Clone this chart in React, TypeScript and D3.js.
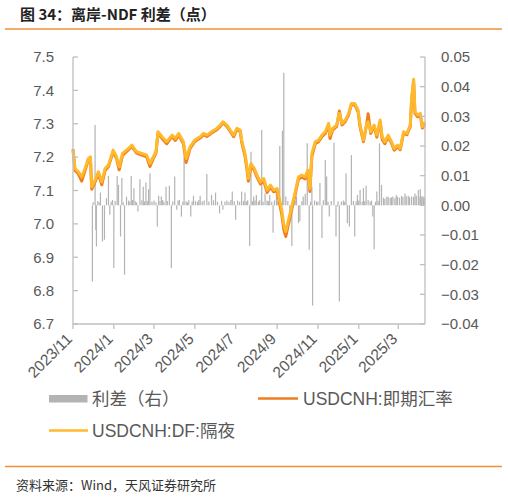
import { useEffect, useRef } from 'react';
import * as d3 from 'd3';

// Dates of the traced line points
const lineDates = [
  '2023-11-01', '2023-11-04', '2023-11-09', '2023-11-14', '2023-11-19', '2023-11-24', '2023-11-27', '2023-11-29',
  '2023-12-04', '2023-12-09', '2023-12-14', '2023-12-19', '2023-12-24', '2023-12-31',
  '2024-01-05', '2024-01-09', '2024-01-14', '2024-01-23', '2024-01-28',
  '2024-02-04', '2024-02-12', '2024-02-19', '2024-02-24', '2024-02-29',
  '2024-03-04', '2024-03-07', '2024-03-13', '2024-03-20', '2024-03-28',
  '2024-04-02', '2024-04-07', '2024-04-14', '2024-04-18', '2024-04-24',
  '2024-05-01', '2024-05-09', '2024-05-14', '2024-05-19', '2024-05-26',
  '2024-06-03', '2024-06-08', '2024-06-12', '2024-06-18', '2024-06-23', '2024-06-28',
  '2024-07-03', '2024-07-08', '2024-07-10', '2024-07-15', '2024-07-18', '2024-07-20', '2024-07-24', '2024-07-29',
  '2024-08-02', '2024-08-07', '2024-08-12', '2024-08-17', '2024-08-22', '2024-08-27',
  '2024-09-01', '2024-09-04', '2024-09-08', '2024-09-11', '2024-09-14', '2024-09-18', '2024-09-23', '2024-09-28',
  '2024-10-03', '2024-10-08', '2024-10-13', '2024-10-17', '2024-10-20', '2024-10-23', '2024-10-28',
  '2024-11-02', '2024-11-07', '2024-11-12', '2024-11-17', '2024-11-19', '2024-11-23', '2024-11-29',
  '2024-12-03', '2024-12-07', '2024-12-12', '2024-12-17', '2024-12-21', '2024-12-26', '2024-12-31',
  '2025-01-03', '2025-01-08', '2025-01-13', '2025-01-15', '2025-01-19', '2025-01-24', '2025-01-28',
  '2025-02-02', '2025-02-05', '2025-02-09', '2025-02-14', '2025-02-19', '2025-02-23', '2025-02-28',
  '2025-03-04', '2025-03-09', '2025-03-14', '2025-03-19', '2025-03-21', '2025-03-24', '2025-03-26', '2025-03-30',
  '2025-04-03', '2025-04-06', '2025-04-10',
];

// USDCNH:DF:隔夜
const dfValues = [
  7.221, 7.166, 7.156, 7.141, 7.166, 7.196, 7.201, 7.111,
  7.131, 7.156, 7.126, 7.166, 7.176, 7.221,
  7.201, 7.171, 7.211, 7.226, 7.236,
  7.216, 7.211, 7.206, 7.181, 7.201,
  7.216, 7.276, 7.261, 7.246, 7.266,
  7.256, 7.271, 7.246, 7.196, 7.231,
  7.251, 7.261, 7.271, 7.266, 7.276,
  7.286, 7.296, 7.306, 7.296, 7.281, 7.266,
  7.286, 7.281, 7.251, 7.211, 7.171, 7.136, 7.181, 7.166,
  7.146, 7.126, 7.136, 7.101, 7.116, 7.101,
  7.106, 7.077, 7.041, 6.997, 6.977, 7.012, 7.052, 7.095,
  7.141, 7.146, 7.141, 7.161, 7.106, 7.211, 7.246,
  7.251, 7.266, 7.276, 7.301, 7.266, 7.286, 7.296,
  7.331, 7.301, 7.311, 7.331, 7.361, 7.361, 7.341,
  7.296, 7.251, 7.301, 7.306, 7.276, 7.296, 7.266,
  7.311, 7.261, 7.246, 7.266, 7.246, 7.226, 7.236,
  7.226, 7.276, 7.271, 7.296, 7.376, 7.433, 7.336, 7.326,
  7.331, 7.291, 7.305,
];

// USDCNH:即期汇率
const spotValues = [
  7.224, 7.160, 7.150, 7.128, 7.160, 7.192, 7.198, 7.104,
  7.126, 7.150, 7.117, 7.160, 7.172, 7.216,
  7.196, 7.162, 7.205, 7.222, 7.232,
  7.212, 7.206, 7.201, 7.172, 7.196,
  7.212, 7.272, 7.256, 7.240, 7.262,
  7.250, 7.266, 7.240, 7.184, 7.226,
  7.247, 7.257, 7.267, 7.262, 7.272,
  7.282, 7.292, 7.303, 7.292, 7.277, 7.261,
  7.283, 7.277, 7.245, 7.203, 7.162, 7.128, 7.175, 7.160,
  7.140, 7.120, 7.130, 7.094, 7.110, 7.096,
  7.100, 7.068, 7.028, 6.983, 6.962, 7.000, 7.044, 7.088,
  7.135, 7.140, 7.135, 7.155, 7.097, 7.203, 7.240,
  7.246, 7.261, 7.271, 7.296, 7.256, 7.281, 7.292,
  7.338, 7.296, 7.307, 7.327, 7.358, 7.357, 7.336,
  7.290, 7.246, 7.300, 7.330, 7.271, 7.292, 7.260,
  7.306, 7.253, 7.240, 7.261, 7.241, 7.221, 7.232,
  7.222, 7.272, 7.267, 7.292, 7.370, 7.428, 7.331, 7.321,
  7.327, 7.287, 7.300,
];

// 利差（右）: [date, spread]
const spreadBars: [string, number][] = [
  ['2023-11-30', -0.0257], ['2023-12-01', 0.001], ['2023-12-04', 0.0271], ['2023-12-05', -0.0083],
  ['2023-12-06', -0.0139], ['2023-12-08', 0.0015], ['2023-12-10', 0.001], ['2023-12-12', 0.0043],
  ['2023-12-15', -0.0122], ['2023-12-18', -0.0116], ['2023-12-21', 0.0024], ['2023-12-24', 0.0099],
  ['2023-12-26', -0.0032], ['2023-12-28', 0.0012], ['2023-12-30', 0.0018], ['2024-01-01', -0.0211],
  ['2024-01-03', 0.0015], ['2024-01-06', 0.0099], ['2024-01-08', 0.0069], ['2024-01-11', -0.0105],
  ['2024-01-13', 0.0092], ['2024-01-15', 0.001], ['2024-01-17', -0.0234], ['2024-01-20', 0.0029],
  ['2024-01-23', 0.0016], ['2024-01-25', 0.0012], ['2024-01-27', 0.0099], ['2024-01-29', 0.0018],
  ['2024-01-31', 0.0058], ['2024-02-02', 0.0014], ['2024-02-04', 0.001], ['2024-02-06', -0.0021],
  ['2024-02-09', 0.0088], ['2024-02-12', 0.0017], ['2024-02-14', 0.0063], ['2024-02-16', 0.0013],
  ['2024-02-18', 0.0077], ['2024-02-20', 0.0015], ['2024-02-22', 0.0054], ['2024-02-24', 0.0108],
  ['2024-02-27', 0.0012], ['2024-03-01', 0.0016], ['2024-03-04', 0.001], ['2024-03-06', -0.0071],
  ['2024-03-08', 0.0032], ['2024-03-10', 0.0014], ['2024-03-12', 0.003], ['2024-03-14', 0.0018],
  ['2024-03-16', 0.0012], ['2024-03-19', 0.0063], ['2024-03-21', 0.0015], ['2024-03-24', 0.0066],
  ['2024-03-27', -0.0211], ['2024-03-29', 0.0013], ['2024-04-01', 0.0097], ['2024-04-04', -0.0015],
  ['2024-04-06', 0.0016], ['2024-04-08', 0.0018], ['2024-04-11', -0.0038], ['2024-04-13', 0.0012],
  ['2024-04-15', 0.0164], ['2024-04-18', 0.0014], ['2024-04-20', 0.001], ['2024-04-22', 0.0017],
  ['2024-04-25', -0.0038], ['2024-04-27', 0.0013], ['2024-04-29', 0.0032], ['2024-05-02', 0.0015],
  ['2024-05-05', 0.0012], ['2024-05-07', 0.0018], ['2024-05-09', 0.0032], ['2024-05-12', 0.0014],
  ['2024-05-15', 0.0016], ['2024-05-19', 0.0106], ['2024-05-22', 0.0013], ['2024-05-26', 0.0035],
  ['2024-05-29', 0.0017], ['2024-06-01', 0.0043], ['2024-06-04', 0.0012], ['2024-06-07', -0.0027],
  ['2024-06-10', 0.0015], ['2024-06-12', -0.0015], ['2024-06-15', 0.0013], ['2024-06-18', 0.0016],
  ['2024-06-21', 0.0012], ['2024-06-24', 0.0018], ['2024-06-26', 0.0047], ['2024-06-29', 0.0014],
  ['2024-07-01', -0.0049], ['2024-07-04', 0.0016], ['2024-07-07', 0.0012], ['2024-07-10', 0.0047],
  ['2024-07-13', 0.0015], ['2024-07-15', 0.0043], ['2024-07-17', 0.0013], ['2024-07-19', 0.0017],
  ['2024-07-22', -0.0137], ['2024-07-24', 0.0181], ['2024-07-26', 0.0014], ['2024-07-28', 0.003],
  ['2024-07-30', 0.0016], ['2024-08-01', 0.0035], ['2024-08-04', 0.0013], ['2024-08-06', 0.0017],
  ['2024-08-09', 0.0254], ['2024-08-11', 0.0012], ['2024-08-14', 0.004], ['2024-08-17', 0.0016],
  ['2024-08-19', 0.0014], ['2024-08-21', 0.0035], ['2024-08-24', 0.0012], ['2024-08-26', -0.0092],
  ['2024-08-28', 0.0017], ['2024-08-31', 0.004], ['2024-09-02', 0.0013], ['2024-09-05', 0.02],
  ['2024-09-09', 0.0252], ['2024-09-11', 0.0447], ['2024-09-14', 0.003], ['2024-09-17', 0.0015],
  ['2024-09-20', -0.006], ['2024-09-23', -0.0137], ['2024-09-26', 0.0012], ['2024-09-28', 0.0016],
  ['2024-09-30', 0.003], ['2024-10-03', -0.006], ['2024-10-05', -0.0054], ['2024-10-08', 0.0014],
  ['2024-10-10', 0.003], ['2024-10-13', 0.0039], ['2024-10-16', 0.0209], ['2024-10-19', -0.015],
  ['2024-10-21', 0.0012], ['2024-10-23', 0.0063], ['2024-10-24', -0.0338], ['2024-10-27', 0.0016],
  ['2024-10-30', 0.0012], ['2024-11-01', 0.0013], ['2024-11-04', 0.0075], ['2024-11-07', -0.011],
  ['2024-11-09', 0.0017], ['2024-11-12', 0.0153], ['2024-11-14', 0.0097], ['2024-11-16', 0.0012],
  ['2024-11-18', -0.0038], ['2024-11-21', 0.0015], ['2024-11-25', 0.0211], ['2024-11-28', -0.0105],
  ['2024-11-30', -0.0004], ['2024-12-01', 0.0014], ['2024-12-03', -0.0324], ['2024-12-06', 0.0012],
  ['2024-12-09', 0.0016], ['2024-12-11', 0.0012], ['2024-12-13', 0.0108], ['2024-12-15', -0.006],
  ['2024-12-18', -0.0071], ['2024-12-21', 0.017], ['2024-12-24', 0.0015], ['2024-12-26', -0.0105],
  ['2024-12-28', 0.0013], ['2024-12-30', 0.0035], ['2025-01-01', 0.0016], ['2025-01-03', 0.0052],
  ['2025-01-06', 0.0012], ['2025-01-08', 0.0058], ['2025-01-10', 0.0015], ['2025-01-12', 0.0066],
  ['2025-01-15', 0.0018], ['2025-01-18', 0.0013], ['2025-01-20', 0.0016], ['2025-01-22', -0.0038],
  ['2025-01-24', -0.0148], ['2025-01-26', 0.0012], ['2025-01-28', 0.0047], ['2025-01-30', 0.0015],
  ['2025-02-01', 0.0209], ['2025-02-04', 0.0069], ['2025-02-07', 0.0026], ['2025-02-09', 0.0022],
  ['2025-02-12', 0.003], ['2025-02-14', 0.0028], ['2025-02-17', 0.0025], ['2025-02-19', 0.0027],
  ['2025-02-21', 0.003], ['2025-02-24', 0.0024], ['2025-02-26', 0.0035], ['2025-02-28', 0.0029],
  ['2025-03-03', 0.0026], ['2025-03-06', 0.0032], ['2025-03-08', 0.0028], ['2025-03-11', 0.0039],
  ['2025-03-13', 0.0031], ['2025-03-16', 0.0032], ['2025-03-18', 0.0027], ['2025-03-21', 0.003],
  ['2025-03-24', 0.0029], ['2025-03-26', 0.004], ['2025-03-28', 0.0032], ['2025-03-31', 0.0052],
  ['2025-04-01', 0.0028], ['2025-04-03', 0.0054], ['2025-04-05', 0.003], ['2025-04-07', 0.0031],
  ['2025-04-08', 0.0024], ['2025-04-09', 0.0027],
];

const leftTicks = [6.7, 6.8, 6.9, 7.0, 7.1, 7.2, 7.3, 7.4, 7.5];
const rightTicks = [-0.04, -0.03, -0.02, -0.01, 0, 0.01, 0.02, 0.03, 0.04, 0.05];
const xTickDates = ['2023-11-01', '2024-01-01', '2024-03-01', '2024-05-01', '2024-07-01', '2024-09-01', '2024-11-01', '2025-01-01', '2025-03-01'];
const xTickLabels = ['2023/11', '2024/1', '2024/3', '2024/5', '2024/7', '2024/9', '2024/11', '2025/1', '2025/3'];

const ORANGE = '#F07D1F';
const YELLOW = '#FEB92C';
const GRAY = '#B3B3B3';
const AXIS = '#BFBFBF';
const TEXT = '#595959';
const LATIN = "'Liberation Sans', Arial, 'Noto Sans CJK SC', sans-serif";
const CJK = "'Noto Sans CJK SC', 'Liberation Sans', sans-serif";

export default function App() {
  const svgRef = useRef<SVGSVGElement>(null);

  useEffect(() => {
    if (!svgRef.current) return;
    const svg = d3.select(svgRef.current);
    svg.selectAll('*').remove();

    const width = 508;
    const height = 497;
    const left = 73, right = 425, top = 57, bottom = 324;
    const parse = d3.timeParse('%Y-%m-%d');

    const x = d3.scaleTime()
      .domain([parse('2023-11-01')!, parse('2025-04-10')!])
      .range([left, right]);
    const yL = d3.scaleLinear().domain([6.7, 7.5]).range([bottom, top]);
    const yR = d3.scaleLinear().domain([-0.04, 0.05]).range([bottom, top]);

    svg.attr('width', width).attr('height', height);
    svg.append('rect').attr('width', width).attr('height', height).attr('fill', '#fff');

    // Title and rules
    svg.append('text')
      .attr('x', 20).attr('y', 20)
      .attr('font-family', CJK).attr('font-weight', 700).attr('font-size', 15)
      .attr('fill', '#222')
      .text('图 34：离岸-NDF 利差（点）');
    svg.append('line').attr('x1', 5).attr('x2', 502).attr('y1', 29).attr('y2', 29)
      .attr('stroke', '#F0913A').attr('stroke-width', 1.3);
    svg.append('line').attr('x1', 5).attr('x2', 502).attr('y1', 466.5).attr('y2', 466.5)
      .attr('stroke', '#F0913A').attr('stroke-width', 1.3);

    // Spread bars
    svg.append('g').selectAll('line')
      .data(spreadBars)
      .enter().append('line')
      .attr('x1', d => x(parse(d[0])!)).attr('x2', d => x(parse(d[0])!))
      .attr('y1', yR(0)).attr('y2', d => yR(d[1]))
      .attr('stroke', GRAY).attr('stroke-width', 1.2);

    // Lines
    const pts = (vals: number[]) => lineDates.map((d, i) => [parse(d)!, vals[i]] as [Date, number]);
    const line = d3.line<[Date, number]>()
      .x(d => x(d[0]))
      .y(d => yL(d[1]))
      .curve(d3.curveLinear);
    svg.append('path').attr('d', line(pts(spotValues))!)
      .attr('fill', 'none').attr('stroke', ORANGE).attr('stroke-width', 3).attr('stroke-linejoin', 'round');
    svg.append('path').attr('d', line(pts(dfValues))!)
      .attr('fill', 'none').attr('stroke', YELLOW).attr('stroke-width', 3).attr('stroke-linejoin', 'round');

    // Axes
    const ax = svg.append('g').attr('stroke', AXIS).attr('stroke-width', 1.3).attr('fill', 'none');
    ax.append('line').attr('x1', left).attr('x2', left).attr('y1', top).attr('y2', bottom);
    ax.append('line').attr('x1', right).attr('x2', right).attr('y1', top).attr('y2', bottom);
    ax.append('line').attr('x1', left).attr('x2', right).attr('y1', bottom).attr('y2', bottom);
    leftTicks.forEach(t => {
      ax.append('line').attr('x1', left).attr('x2', left + 5).attr('y1', yL(t)).attr('y2', yL(t));
    });
    rightTicks.forEach(t => {
      ax.append('line').attr('x1', right - 5).attr('x2', right).attr('y1', yR(t)).attr('y2', yR(t));
    });
    xTickDates.forEach(t => {
      const xx = x(parse(t)!);
      ax.append('line').attr('x1', xx).attr('x2', xx).attr('y1', bottom).attr('y2', bottom + 5);
    });

    // Tick labels
    svg.append('g').selectAll('text').data(leftTicks).enter().append('text')
      .attr('x', 54).attr('y', d => yL(d)).attr('dy', '0.35em')
      .attr('text-anchor', 'end').attr('font-family', LATIN).attr('font-size', 15).attr('fill', TEXT)
      .text(d => d3.format('.1f')(d));
    svg.append('g').selectAll('text').data(rightTicks).enter().append('text')
      .attr('x', 441).attr('y', d => yR(d)).attr('dy', '0.35em')
      .attr('text-anchor', 'start').attr('font-family', LATIN).attr('font-size', 15).attr('fill', TEXT)
      .text(d => d3.format('.2f')(d));
    svg.append('g').selectAll('text').data(xTickDates).enter().append('text')
      .attr('transform', d => `translate(${x(parse(d)!)},${bottom + 16}) rotate(-45)`)
      .attr('text-anchor', 'end').attr('font-family', LATIN).attr('font-size', 15.5).attr('fill', TEXT)
      .text((d, i) => xTickLabels[i]);

    // Legend
    const lg = svg.append('g').attr('font-family', LATIN).attr('font-size', 17.5).attr('fill', TEXT);
    lg.append('rect').attr('x', 49).attr('y', 395).attr('width', 38.5).attr('height', 7.5).attr('fill', GRAY);
    lg.append('text').attr('x', 92).attr('y', 398.5).attr('dy', '0.36em').text('利差（右）');
    lg.append('line').attr('x1', 258).attr('x2', 298).attr('y1', 398.5).attr('y2', 398.5)
      .attr('stroke', ORANGE).attr('stroke-width', 2.5);
    lg.append('text').attr('x', 303).attr('y', 398.5).attr('dy', '0.36em').text('USDCNH:即期汇率');
    lg.append('line').attr('x1', 49).attr('x2', 88).attr('y1', 430.5).attr('y2', 430.5)
      .attr('stroke', YELLOW).attr('stroke-width', 2.5);
    lg.append('text').attr('x', 92).attr('y', 430.5).attr('dy', '0.36em').text('USDCNH:DF:隔夜');

    // Source
    svg.append('text').attr('x', 16).attr('y', 490)
      .attr('font-family', CJK).attr('font-size', 13).attr('fill', '#333')
      .text('资料来源：Wind，天风证券研究所');
  }, []);

  return (
    <div style={{ position: 'absolute', left: 0, top: 0 }}>
      <svg ref={svgRef} style={{ display: 'block' }} />
    </div>
  );
}
